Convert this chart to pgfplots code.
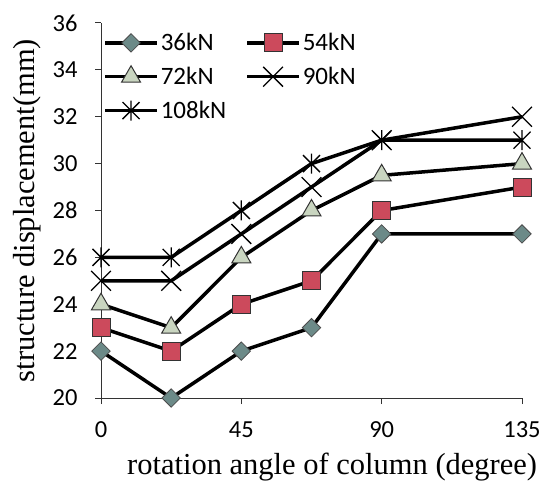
\documentclass[border=0pt]{standalone}
\usepackage{fontspec}
\setmainfont{Liberation Serif}
\newfontfamily\calib{Carlito}
\usepackage{pgfplots}
\pgfplotsset{compat=1.18}
\definecolor{diafill}{HTML}{6C8A88}
\definecolor{sqfill}{HTML}{CC4A5C}
\definecolor{trifill}{HTML}{C9D5C0}
% Excel style star: an x with a vertical bar through it
\pgfdeclareplotmark{xstar}{%
  \pgfpathmoveto{\pgfqpoint{-.85\pgfplotmarksize}{-.85\pgfplotmarksize}}%
  \pgfpathlineto{\pgfqpoint{.85\pgfplotmarksize}{.85\pgfplotmarksize}}%
  \pgfpathmoveto{\pgfqpoint{-.85\pgfplotmarksize}{.85\pgfplotmarksize}}%
  \pgfpathlineto{\pgfqpoint{.85\pgfplotmarksize}{-.85\pgfplotmarksize}}%
  \pgfpathmoveto{\pgfqpoint{0pt}{-\pgfplotmarksize}}%
  \pgfpathlineto{\pgfqpoint{0pt}{\pgfplotmarksize}}%
  \pgfusepathqstroke}
\begin{document}
\begin{tikzpicture}
\begin{axis}[
  scale only axis, width=421pt, height=375pt,
  at={(101pt,87pt)}, anchor=south west,
  xmin=0, xmax=135, ymin=20, ymax=36,
  xtick={0,45,90,135}, ytick={20,22,...,36},
  axis x line*=bottom, axis y line*=left,
  axis line style={-, line width=1pt, black!80},
  tick align=outside, major tick length=6pt,
  tick style={line width=1pt, black!80},
  tick label style={font=\calib\fontsize{24.5}{27}\selectfont,
    /pgf/number format/assume math mode=true},
  yticklabel style={xshift=-14pt},
  xticklabel style={yshift=-14pt},
  clip=false,
  xlabel={rotation angle of column (degree)},
  ylabel={structure displacement(mm)},
  every axis x label/.style={at={(axis description cs:0.549,-0.183)},
    anchor=center, font=\fontsize{30.5}{34}\selectfont},
  every axis y label/.style={at={(axis description cs:-0.176,0.5)},
    rotate=90, anchor=center, font=\fontsize{30.5}{34}\selectfont},
  every axis plot/.append style={line width=3.5pt, black},
  legend style={at={(axis description cs:0.005,0.978)}, anchor=north west,
    draw=none, fill=none, font=\calib\fontsize{25}{28}\selectfont,
    row sep=11pt, inner sep=0pt,
    /tikz/every even column/.append style={column sep=17pt}},
  legend columns=2, legend cell align=left,
  legend image code/.code={%
    \draw[mark repeat=2, mark phase=2, #1]
      plot coordinates {(0pt,0pt) (26pt,0pt) (52pt,0pt)};},
]
\addplot[mark=square*, mark size=6.5pt,
  mark options={rotate=45, fill=diafill, draw=black!70, line width=0.8pt}]
  coordinates {(0,22) (22.5,20) (45,22) (67.5,23) (90,27) (135,27)};
\addplot[mark=square*, mark size=9pt,
  mark options={fill=sqfill, draw=black!80, line width=1pt}]
  coordinates {(0,23) (22.5,22) (45,24) (67.5,25) (90,28) (135,29)};
\addplot[mark=triangle*, mark size=11pt,
  mark options={fill=trifill, draw=black!80, line width=1pt}]
  coordinates {(0,24) (22.5,23) (45,26) (67.5,28) (90,29.5) (135,30)};
\addplot[mark=x, mark size=14pt,
  mark options={draw=black, line width=1.3pt}]
  coordinates {(0,25) (22.5,25) (45,27) (67.5,29) (90,31) (135,32)};
\addplot[mark=xstar, mark size=10pt,
  mark options={draw=black, line width=1.3pt}]
  coordinates {(0,26) (22.5,26) (45,28) (67.5,30) (90,31) (135,31)};
\legend{36kN, 54kN, 72kN, 90kN, 108kN}
\end{axis}
\pgfresetboundingbox
\path[use as bounding box] (0,0) rectangle (541pt,485pt);
\end{tikzpicture}
\end{document}
